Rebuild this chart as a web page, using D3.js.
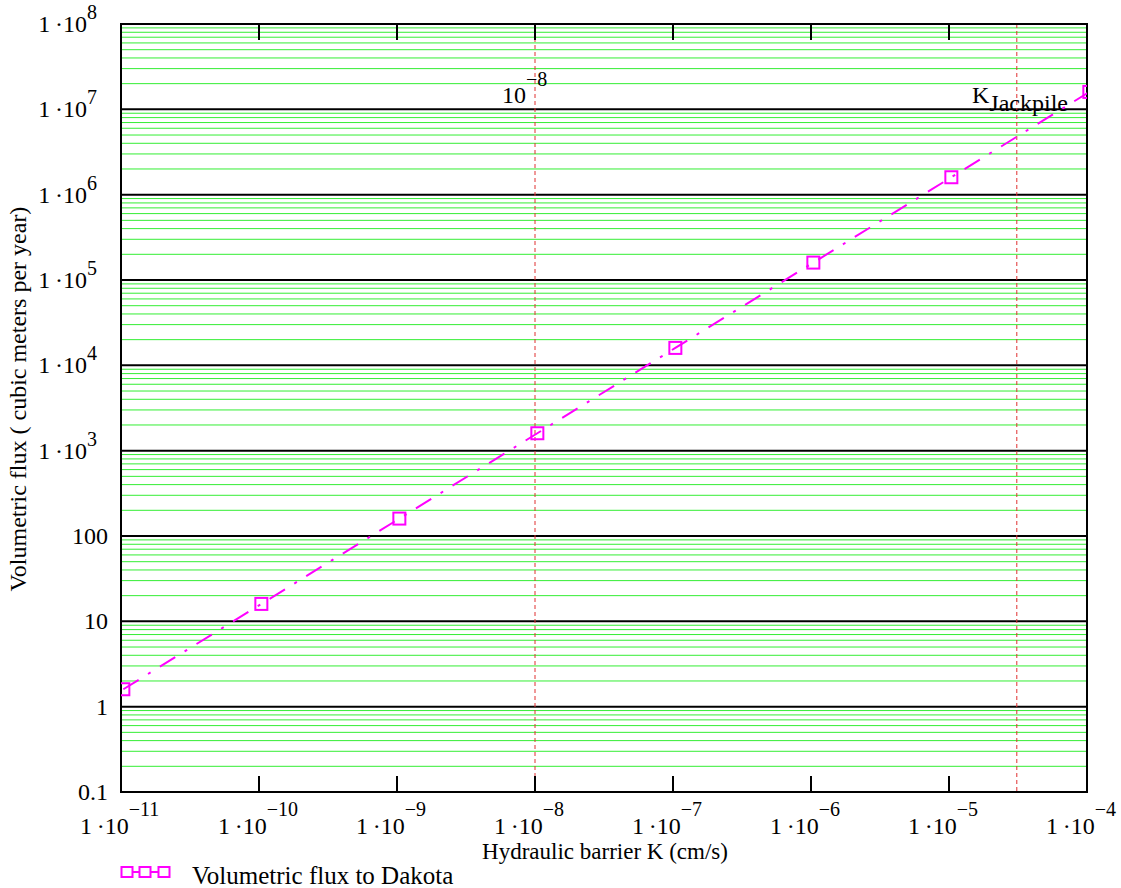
<!DOCTYPE html>
<html>
<head>
<meta charset="utf-8">
<script src="https://cdn.jsdelivr.net/npm/d3@7"></script>
<style>
  body { margin: 0; background: #fff; }
  text { font-family: "Liberation Serif", "Times New Roman", serif; fill: #000; }
</style>
</head>
<body>
<script>
// ** Data
var kValues = [1.04e-11, 1.04e-10, 1.04e-9, 1.04e-8, 1.04e-7, 1.04e-6, 1.04e-5, 1.04e-4];
var fluxValues = [1.6, 16, 160, 1600, 1.6e4, 1.6e5, 1.6e6, 1.6e7];
var xTicks = [1e-11, 1e-10, 1e-9, 1e-8, 1e-7, 1e-6, 1e-5, 1e-4];
var xTickExp = ['11', '10', '9', '8', '7', '6', '5', '4'];
var yTicks = [0.1, 1, 10, 100, 1e3, 1e4, 1e5, 1e6, 1e7, 1e8];
var yTickLabels = ['0.1', '1', '10', '100', '3', '4', '5', '6', '7', '8'];
var markerK = [1e-8, 3.1e-5];

var W = 1121, H = 888;
var pLeft = 121, pRight = 1087, pTop = 24, pBottom = 792;

var svg = d3.select('body').append('svg')
    .attr('width', W).attr('height', H);

var x = d3.scaleLog().domain([1e-11, 1e-4]).range([pLeft, pRight]);
var y = d3.scaleLog().domain([0.1, 1e8]).range([pBottom, pTop]);

// ** minor green grid lines
var minor = [];
for (var e = -1; e < 8; e++) {
  for (var m = 2; m <= 9; m++) minor.push(m * Math.pow(10, e));
}
svg.append('g').selectAll('line').data(minor).enter().append('line')
    .attr('x1', pLeft).attr('x2', pRight)
    .attr('y1', function(d){ return y(d); })
    .attr('y2', function(d){ return y(d); })
    .attr('stroke', '#33ee33').attr('stroke-width', 1);

// ** major black grid lines
svg.append('g').selectAll('line').data(yTicks).enter().append('line')
    .attr('x1', pLeft).attr('x2', pRight)
    .attr('y1', function(d){ return y(d); })
    .attr('y2', function(d){ return y(d); })
    .attr('stroke', '#000').attr('stroke-width', 2);

// ** red dashed markers
svg.append('g').selectAll('line').data(markerK).enter().append('line')
    .attr('x1', function(d){ return x(d); })
    .attr('x2', function(d){ return x(d); })
    .attr('y1', pTop).attr('y2', pBottom)
    .attr('stroke', '#e03030').attr('stroke-width', 1)
    .attr('stroke-dasharray', '4,3');

// ** x ticks top and bottom
var tk = svg.append('g');
tk.selectAll('.tb').data(xTicks).enter().append('line')
    .attr('x1', function(d){ return x(d); })
    .attr('x2', function(d){ return x(d); })
    .attr('y1', pBottom).attr('y2', pBottom - 16)
    .attr('stroke', '#000').attr('stroke-width', 2);
tk.selectAll('.tt').data(xTicks).enter().append('line')
    .attr('x1', function(d){ return x(d); })
    .attr('x2', function(d){ return x(d); })
    .attr('y1', pTop).attr('y2', pTop + 16)
    .attr('stroke', '#000').attr('stroke-width', 2);

// ** frame
svg.append('rect')
    .attr('x', pLeft).attr('y', pTop)
    .attr('width', pRight - pLeft).attr('height', pBottom - pTop)
    .attr('fill', 'none').attr('stroke', '#000').attr('stroke-width', 2);

// ** clip for the series
svg.append('clipPath').attr('id', 'plotclip').append('rect')
    .attr('x', pLeft).attr('y', pTop)
    .attr('width', pRight - pLeft).attr('height', pBottom - pTop);

var series = svg.append('g').attr('clip-path', 'url(#plotclip)');
var line = d3.line()
    .x(function(d, i){ return x(kValues[i]); })
    .y(function(d){ return y(d); });
series.append('path').datum(fluxValues)
    .attr('d', line)
    .attr('fill', 'none').attr('stroke', '#ff00ff').attr('stroke-width', 2)
    .attr('stroke-dasharray', '18,11,3,11');
series.selectAll('rect').data(fluxValues).enter().append('rect')
    .attr('x', function(d, i){ return x(kValues[i]) - 6; })
    .attr('y', function(d){ return y(d) - 6; })
    .attr('width', 12).attr('height', 12)
    .attr('fill', 'none').attr('stroke', '#ff00ff').attr('stroke-width', 2);

// ** y tick labels
var yl = svg.append('g').selectAll('text').data(yTicks).enter().append('text')
    .attr('x', function(d){ return d < 1000 ? 108 : 97; })
    .attr('y', function(d){ return y(d) + 8; })
    .attr('text-anchor', 'end')
    .style('font-size', '24px');
yl.each(function(d, i){
  var t = d3.select(this);
  if (d < 1000) { t.text(yTickLabels[i]); return; }
  t.append('tspan').text('1\u2009\u00b710');
  t.append('tspan').attr('dy', -13).style('font-size', '20px').text(yTickLabels[i]);
});

// ** x tick labels
var xl = svg.append('g').selectAll('text').data(xTicks).enter().append('text')
    .attr('x', function(d){ return x(d) - 41; })
    .attr('y', 834)
    .style('font-size', '24px');
xl.each(function(d, i){
  var t = d3.select(this);
  t.append('tspan').text('1\u2009\u00b710');
  t.append('tspan').attr('dy', -18).style('font-size', '20px').text('\u2212' + xTickExp[i]);
});

// ** axis titles
svg.append('text')
    .attr('x', 605).attr('y', 859)
    .attr('text-anchor', 'middle')
    .style('font-size', '23px')
    .text('Hydraulic barrier K (cm/s)');
svg.append('text')
    .attr('transform', 'translate(26,399) rotate(-90)')
    .attr('text-anchor', 'middle')
    .style('font-size', '24px')
    .text('Volumetric flux ( cubic meters per year)');

// ** annotations
var a1 = svg.append('text').attr('x', 502).attr('y', 103).style('font-size', '24px');
a1.append('tspan').text('10');
a1.append('tspan').attr('dy', -17).style('font-size', '20px').text('\u22128');
var a2 = svg.append('text').attr('x', 972).attr('y', 103).style('font-size', '24px');
a2.append('tspan').text('K');
a2.append('tspan').attr('dy', 8).text('Jackpile');

// ** legend
var lg = svg.append('g');
lg.append('line').attr('x1', 121).attr('x2', 170).attr('y1', 872).attr('y2', 872)
    .attr('stroke', '#ff00ff').attr('stroke-width', 2);
lg.selectAll('rect').data([127, 145, 164]).enter().append('rect')
    .attr('x', function(d){ return d - 5.5; }).attr('y', 867)
    .attr('width', 11).attr('height', 10)
    .attr('fill', '#fff').attr('stroke', '#ff00ff').attr('stroke-width', 2);
lg.append('text').attr('x', 192).attr('y', 884).style('font-size', '25px')
    .text('Volumetric flux to Dakota');
</script>
</body>
</html>
